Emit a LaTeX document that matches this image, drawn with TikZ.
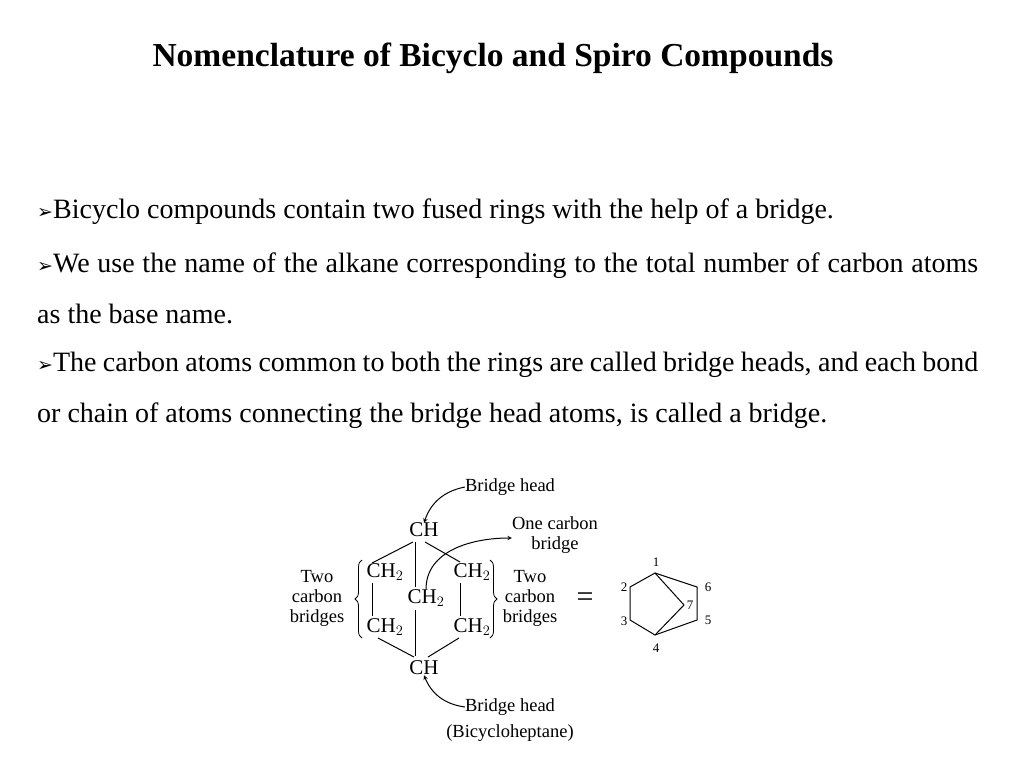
\documentclass[tikz,border=0pt]{standalone}
\usepackage{fontspec}
\setmainfont{Liberation Serif}
\newfontfamily\symfont{DejaVu Sans}
\usetikzlibrary{decorations.pathreplacing}
\newcommand{\bul}{{\symfont\fontsize{19}{19}\selectfont ➢}}
\begin{document}
\begin{tikzpicture}[x=1pt,y=-1pt,
    chem/.style={font=\fontsize{21}{21}\selectfont,inner sep=0pt},
    lbl/.style={font=\fontsize{18.5}{20}\selectfont,inner sep=0pt,align=center},
    num/.style={font=\fontsize{13}{13}\selectfont,inner sep=0pt},
    bodytext/.style={font=\fontsize{28}{51}\selectfont,inner sep=0pt,anchor=west},
    curv/.style={->,>=stealth,line width=1pt},
    bond/.style={line width=1pt}]
  \useasboundingbox (0,0) rectangle (1024,768);
  \node[font=\bfseries\fontsize{33.5}{34}\selectfont] (title) at (493,58) {Nomenclature of Bicyclo and Spiro Compounds};
  \node[bodytext] (p1) at (37,212) {\bul Bicyclo compounds contain two fused rings with the help of a bridge.};
  \node[bodytext,text width=941pt,align=justify] (p2) at (37,288.5) {\bul We use the name of the alkane corresponding to the total number of carbon atoms as the base name.};
  \node[bodytext,text width=941pt,align=justify] (p3) at (37,390.5) {\bul The carbon atoms common to both the rings are called bridge heads, and each bond or chain of atoms connecting the bridge head atoms, is called a bridge.};
  % structural formula
  \node[chem] (cht) at (424,530) {CH};
  \node[chem] (chb) at (424,668) {CH};
  \node[chem] (lt) at (385,572) {CH$_2$};
  \node[chem] (lb) at (385,627) {CH$_2$};
  \node[chem] (rt) at (472,572) {CH$_2$};
  \node[chem] (rb) at (472,627) {CH$_2$};
  \node[chem] (mid) at (426,598) {CH$_2$};
  \draw[bond] (413,542) -- (372,563);
  \draw[bond] (425,542) -- (460,562);
  \draw[bond] (415,542) -- (415,587);
  \draw[bond] (415,610) -- (415,656);
  \draw[bond] (372,583) -- (372,616);
  \draw[bond] (460,583) -- (460,616);
  \draw[bond] (378,638) -- (414,657);
  \draw[bond] (459,638) -- (428,657);
  % braces
  \draw[decorate,decoration={brace,amplitude=7pt},line width=0.8pt] (362,638) -- (362,560);
  \draw[decorate,decoration={brace,amplitude=7pt},line width=0.8pt] (490,560) -- (490,638);
  \node[lbl] (tl) at (317,598) {Two\\carbon\\bridges};
  \node[lbl] (tr) at (530,598) {Two\\carbon\\bridges};
  \node[lbl] (bht) at (510,487) {Bridge head};
  \node[lbl] (bhb) at (510,707) {Bridge head};
  \node[lbl] (ocb) at (555,535) {One carbon\\bridge};
  \node[lbl] (name) at (510,733) {(Bicycloheptane)};
  \draw[curv] (bht.west) to[bend right=30] (cht.north);
  \draw[curv] (bhb.west) to[bend left=30] (chb.south);
  \draw[curv] (mid.north) to[out=90,in=180] ([yshift=-3pt]ocb.west);
  \node[font=\fontsize{30}{30}\selectfont] (eq) at (585,600) {=};
  % skeletal formula
  \coordinate (v1) at (655,573);
  \coordinate (v2) at (630,587);
  \coordinate (v3) at (630,620);
  \coordinate (v4) at (655,635);
  \coordinate (v5) at (697,620);
  \coordinate (v6) at (697,587);
  \coordinate (v7) at (684,605);
  \draw[bond] (v1) -- (v2) -- (v3) -- (v4) -- (v5) -- (v6) -- cycle;
  \draw[bond] (v1) -- (v7) -- (v4);
  \node[num] (n1) at (656,562) {1};
  \node[num] (n2) at (624,587) {2};
  \node[num] (n3) at (624,621) {3};
  \node[num] (n4) at (656,648) {4};
  \node[num] (n5) at (708,620) {5};
  \node[num] (n6) at (708,587) {6};
  \node[num] (n7) at (690,605) {7};
\end{tikzpicture}
\end{document}
